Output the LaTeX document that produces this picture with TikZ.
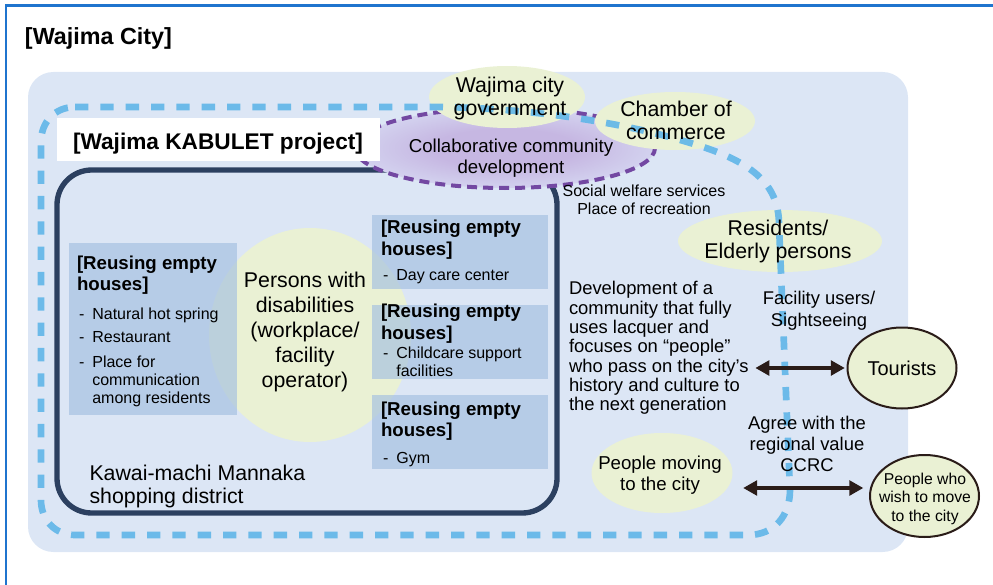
\documentclass[tikz,border=0pt]{standalone}
\usepackage{fontspec}
\setmainfont{Liberation Sans}
\usetikzlibrary{arrows.meta,shapes.geometric}

\definecolor{framblue}{RGB}{31,116,206}
\definecolor{areablue}{RGB}{220,230,245}
\definecolor{boxblue}{RGB}{163,191,225}
\definecolor{paleyel}{RGB}{234,241,212}
\definecolor{navyline}{RGB}{44,64,96}
\definecolor{skyblue}{RGB}{96,182,232}
\definecolor{dashpurple}{RGB}{115,72,162}
\definecolor{lilac}{RGB}{198,183,226}
\definecolor{lilacfade}{RGB}{210,208,238}
\definecolor{arrowdark}{RGB}{42,28,24}
\pgfdeclareradialshading{collabshade}{\pgfpoint{0bp}{0bp}}{color(0bp)=(lilac); color(12bp)=(lilac); color(24bp)=(lilacfade); color(30bp)=(areablue); color(50bp)=(areablue)}

\tikzset{
  every node/.style={inner sep=0pt, outer sep=0pt},
  cityhead/.style={font=\bfseries\fontsize{17.5}{21}\selectfont, anchor=base west},
  bigtxt/.style={font=\fontsize{16}{17.25}\selectfont, align=center},
  medtxt/.style={font=\fontsize{14}{15.75}\selectfont, align=center},
  smalltxt/.style={font=\fontsize{12}{13.5}\selectfont, align=center},
  headtxt/.style={font=\bfseries\fontsize{14}{16}\selectfont, align=left, anchor=west},
  itemtxt/.style={font=\fontsize{12}{13.5}\selectfont, align=left, anchor=base west},
  housebox/.style={fill=boxblue, fill opacity=0.65},
  yelell/.style={ellipse, fill=paleyel},
  outell/.style={ellipse, fill=paleyel, draw=arrowdark, line width=1.5pt},
  collabell/.style={ellipse, shade, shading=collabshade,
    draw=dashpurple, line width=3pt, dash pattern=on 7.5pt off 4.5pt},
  loopdash/.style={skyblue, line width=5pt, dash pattern=on 10pt off 9pt, opacity=0.9},
  twohead/.style={{Triangle[length=10.5pt,width=11pt]}-{Triangle[length=10.5pt,width=11pt]},
    line width=3pt, arrowdark}
}

\begin{document}
\begin{tikzpicture}[x=0.75pt, y=-0.75pt]
    \useasboundingbox (0,0) rectangle (993,585);
    % frame and city area
    \draw[framblue, line width=1.9pt] (993,5.5) -- (6,5.5) -- (6,585);
    \fill[areablue, rounded corners=19pt] (28,72) rectangle (908,552);
    \node[cityhead] (city) at (25,45) {[Wajima City]};

    % shopping district
    \draw[navyline, line width=4pt, rounded corners=26pt] (57,170) rectangle (557,513);
    \node[yelell, minimum width=151.5pt, minimum height=160.5pt] (pers) at (310,335) {};
    \node[bigtxt, font=\fontsize{16}{18.75}\selectfont] (perstxt) at (305,332)
        {Persons with\\disabilities\\(workplace/\\facility\\operator)};
    \fill[housebox] (69,243) rectangle (237,415);
    \fill[housebox] (372,215) rectangle (548,289);
    \fill[housebox] (372,305) rectangle (548,379);
    \fill[housebox] (372,395) rectangle (548,469);
    \node[headtxt] (lhead) at (77,275.5) {[Reusing empty\\houses]};
    \node[itemtxt] (lit1) at (79,319) {-\enspace Natural hot spring};
    \node[itemtxt] (lit2) at (79,342) {-\enspace Restaurant};
    \node[itemtxt, anchor=west] (lit3) at (79,381) {-\enspace Place for\\\hphantom{-\enspace}communication\\\hphantom{-\enspace}among residents};
    \node[headtxt] (r1head) at (381,239.6) {[Reusing empty\\houses]};
    \node[itemtxt] (r1it) at (383,280) {-\enspace Day care center};
    \node[headtxt] (r2head) at (381,323.6) {[Reusing empty\\houses]};
    \node[itemtxt, anchor=west] (r2it) at (383,361.6) {-\enspace Childcare support\\\hphantom{-\enspace}facilities};
    \node[headtxt] (r3head) at (381,421) {[Reusing empty\\houses]};
    \node[itemtxt] (r3it) at (383,463) {-\enspace Gym};
    \node[bigtxt, align=left, anchor=west] (kawai) at (89.5,486) {Kawai-machi Mannaka\\shopping district};

    % collaboration and partners
    \node[collabell, minimum width=225pt, minimum height=60pt] (collab) at (505,148) {};
    \fill[white] (57,118) rectangle (380,161);
    \node[cityhead, font=\bfseries\fontsize{17}{20}\selectfont] (kabulet) at (73,150) {[Wajima KABULET project]};
    \node[yelell, minimum width=117pt, minimum height=46.5pt] (gov) at (507,97) {};
    \node[yelell, minimum width=120pt, minimum height=43.5pt] (cham) at (675,121) {};
    \node[yelell, minimum width=153pt, minimum height=46.5pt] (resi) at (780,241) {};

    % project boundary
    \draw[loopdash] (75,107) -- (440,107) .. controls (520,108) and (620,120) .. (700,146)
        .. controls (760,165) and (779,190) .. (779,225) -- (790,490)
        .. controls (790,515) and (775,535) .. (748,535) -- (75,535)
        .. controls (55,535) and (41,520) .. (41,500) -- (41,142)
        .. controls (41,122) and (55,107) .. (75,107);

    \node[bigtxt] (govtxt) at (510,98) {Wajima city\\government};
    \node[bigtxt] (chamtxt) at (676,120.7) {Chamber of\\commerce};
    \node[bigtxt] (resitxt) at (778,241) {Residents/\\Elderly persons};
    \node[medtxt] (collabtxt) at (511,157.7) {Collaborative community\\development};
    \node[smalltxt] (welfare) at (644,200) {Social welfare services\\Place of recreation};

    % outside the city
    \node[medtxt, font=\fontsize{13.8}{14.5}\selectfont, align=left, anchor=west] (dev) at (569,348.2)
        {Development of a\\community that fully\\uses lacquer and\\focuses on “people”\\who pass on the city’s\\history and culture to\\the next generation};
    \node[medtxt, font=\fontsize{13.8}{16.5}\selectfont] (users) at (819,311) {Facility users/\\Sightseeing};
    \node[medtxt, font=\fontsize{13.8}{15.75}\selectfont] (agree) at (807,444.3) {Agree with the\\regional value\\CCRC};
    \node[yelell, minimum width=105.75pt, minimum height=60pt] (moving) at (662,473) {};
    \node[medtxt] (movingtxt) at (660,475.5) {People moving\\to the city};
    \node[outell, font=\fontsize{15}{18}\selectfont, minimum width=81.75pt, minimum height=60.75pt] (tour) at (902,368) {Tourists};
    \node[outell, minimum width=81.75pt, minimum height=61.5pt] (wish) at (924.5,496) {};
    \node[smalltxt, font=\fontsize{11.8}{13.9}\selectfont] (wishtxt) at (925,498.5) {People who\\wish to move\\to the city};
    \coordinate (wishin) at ([yshift=6pt]wish.west);
    \draw[twohead, shorten <=5pt, shorten >=2pt] (dev.east |- tour.west) -- (tour.west);
    \draw[twohead, shorten <=8pt, shorten >=5pt] (wishin -| moving.east) -- (wishin);
\end{tikzpicture}
\end{document}
